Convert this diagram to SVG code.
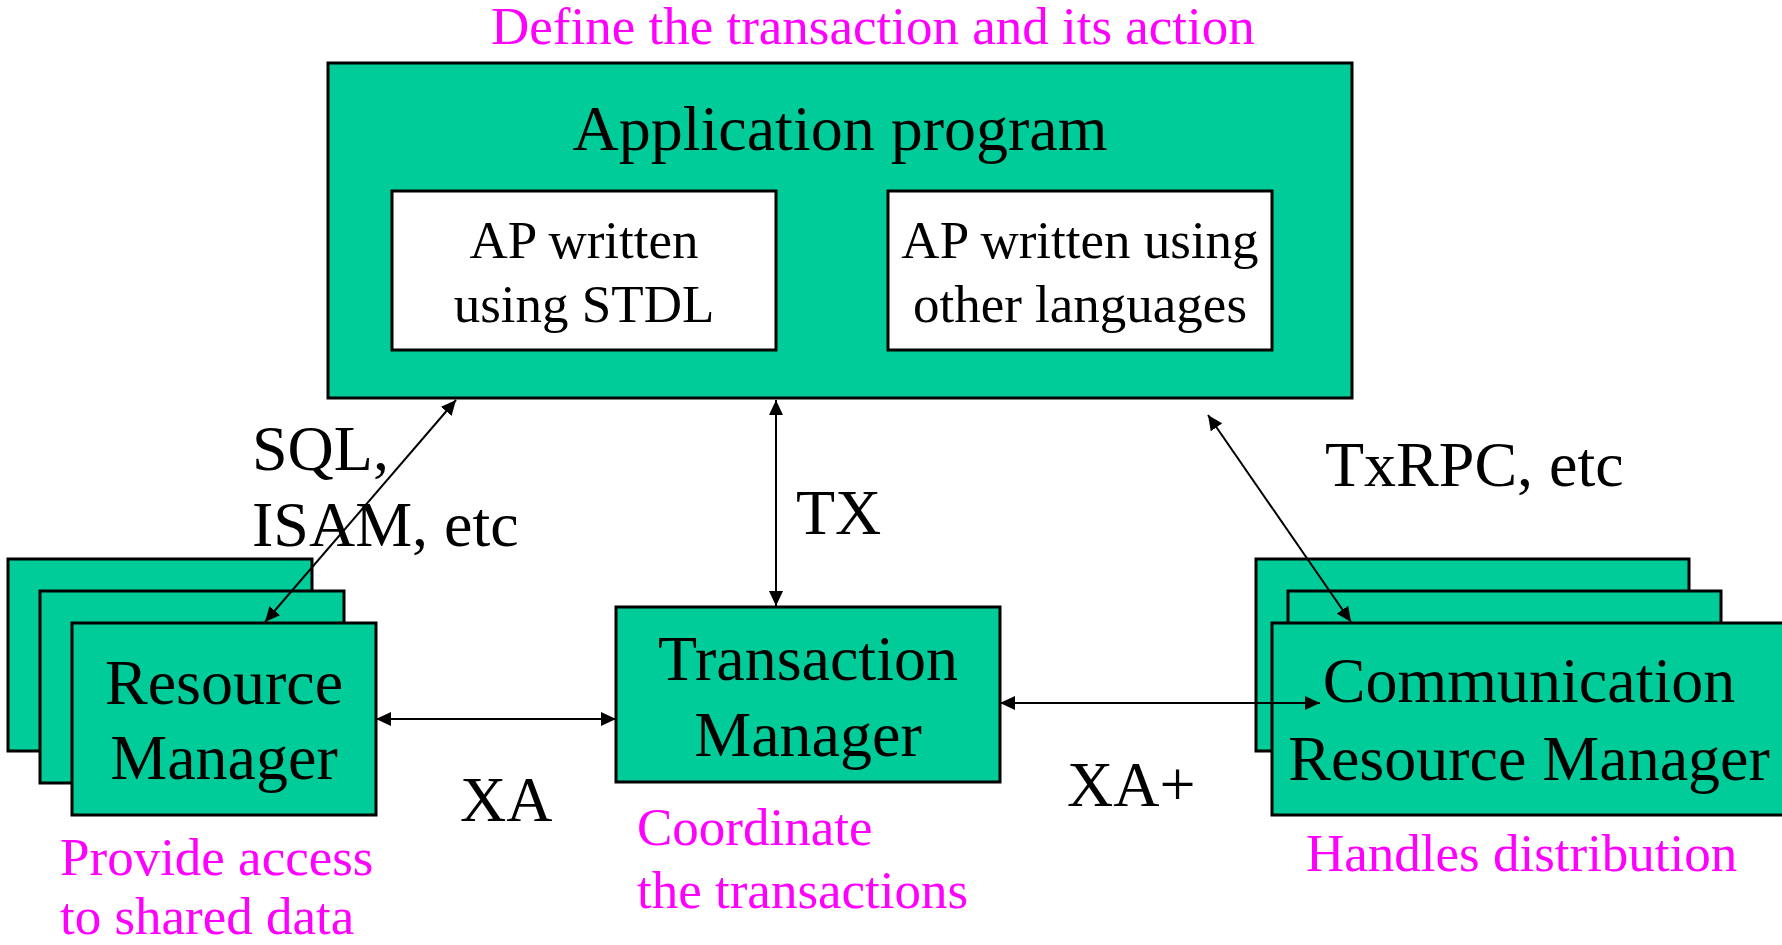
<svg xmlns="http://www.w3.org/2000/svg" width="1782" height="945" viewBox="0 0 1782 945">
<defs>
<style>
.box{fill:#00CC99;stroke:#000;stroke-width:3}
.inner{fill:#fff;stroke:#000;stroke-width:3}
.t{font-family:"Liberation Serif","Times New Roman",serif;fill:#000}
.big{font-size:64px}
.mid{font-size:53px}
.note{font-family:"Liberation Serif","Times New Roman",serif;font-size:53px;fill:#FF00FF}
.c{text-anchor:middle}
.arrow{stroke:#000;stroke-width:2;fill:none;marker-start:url(#ah);marker-end:url(#ah)}
</style>
<marker id="ah" markerUnits="userSpaceOnUse" markerWidth="16" markerHeight="14" refX="15" refY="7" orient="auto-start-reverse" viewBox="0 0 16 14">
<path d="M0,0 L15,7 L0,14 z" fill="#000"/>
</marker>
</defs>
<rect width="1782" height="945" fill="#fff"/>

<text class="note" x="491" y="44">Define the transaction and its action</text>

<g id="application-program">
<rect class="box" x="328" y="63" width="1024" height="335"/>
<text class="t big c" x="840" y="150">Application program</text>
</g>
<g id="ap-stdl">
<rect class="inner" x="392" y="191" width="384" height="159"/>
<text class="t mid c" x="584" y="258">AP written</text>
<text class="t mid c" x="584" y="322">using STDL</text>
</g>
<g id="ap-other">
<rect class="inner" x="888" y="191" width="384" height="159"/>
<text class="t mid c" x="1080" y="258">AP written using</text>
<text class="t mid c" x="1080" y="322">other languages</text>
</g>

<g id="resource-manager">
<rect class="box" x="8" y="559" width="304" height="192"/>
<rect class="box" x="40" y="591" width="304" height="192"/>
<rect class="box" x="72" y="623" width="304" height="192"/>
<text class="t big c" x="224" y="704">Resource</text>
<text class="t big c" x="224" y="779">Manager</text>
<text class="note" x="60" y="875">Provide access</text>
<text class="note" x="60" y="934">to shared data</text>
</g>

<g id="transaction-manager">
<rect class="box" x="616" y="607" width="384" height="175"/>
<text class="t big c" x="808" y="680">Transaction</text>
<text class="t big c" x="808" y="756">Manager</text>
<text class="note" x="637" y="845">Coordinate</text>
<text class="note" x="637" y="908">the transactions</text>
</g>

<g id="communication-resource-manager">
<rect class="box" x="1256" y="559" width="433" height="192"/>
<rect class="box" x="1288" y="591" width="433" height="192"/>
<rect class="box" x="1272" y="623" width="520" height="192"/>
<text class="t big c" x="1529" y="702">Communication</text>
<text class="t big c" x="1529" y="780">Resource Manager</text>
<text class="note" x="1306" y="871">Handles distribution</text>
</g>

<g id="connectors">
<line class="arrow" x1="456" y1="400" x2="265" y2="622"/>
<line class="arrow" x1="776" y1="400" x2="776" y2="606"/>
<line class="arrow" x1="376" y1="719" x2="616" y2="719"/>
<line class="arrow" x1="1000" y1="703" x2="1320" y2="703"/>
<line class="arrow" x1="1208" y1="415" x2="1351" y2="622"/>
<text class="t big" x="252" y="470">SQL,</text>
<text class="t big" x="252" y="546">ISAM, etc</text>
<text class="t big" x="796" y="534">TX</text>
<text class="t big" x="460" y="821">XA</text>
<text class="t big" x="1067" y="806">XA+</text>
<text class="t big" x="1325" y="486">TxRPC, etc</text>
</g>
</svg>
